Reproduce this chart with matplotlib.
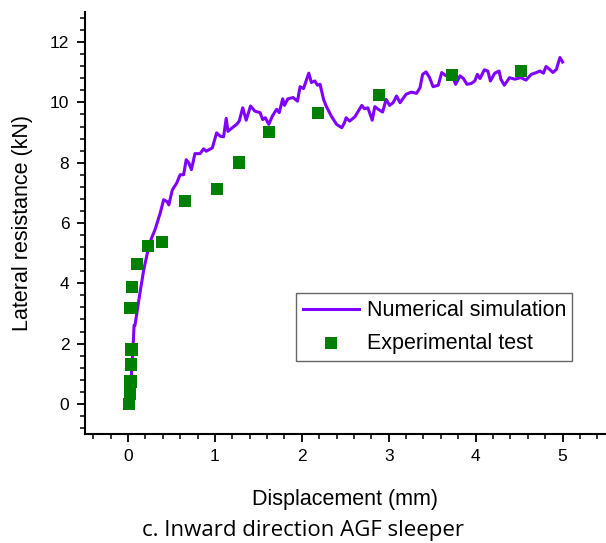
import matplotlib.pyplot as plt
from matplotlib.ticker import MultipleLocator

plt.rcParams['font.family'] = ['Liberation Sans', 'DejaVu Sans']

# numerical simulation curve
sim_x = [0.0, 0.03, 0.04, 0.06, 0.07, 0.08, 0.13, 0.18, 0.23, 0.27, 0.31, 0.37, 0.41, 0.45,
         0.47, 0.51, 0.56, 0.60, 0.64, 0.67, 0.70, 0.73, 0.77, 0.83, 0.87, 0.90, 0.97,
         1.02, 1.06, 1.10, 1.13, 1.15, 1.20, 1.25, 1.28, 1.32, 1.36, 1.41, 1.46, 1.52,
         1.55, 1.58, 1.62, 1.66, 1.71, 1.74, 1.78, 1.80, 1.84, 1.90, 1.95, 1.98, 2.02,
         2.08, 2.11, 2.15, 2.18, 2.21, 2.25, 2.28, 2.34, 2.40, 2.46, 2.49, 2.51, 2.55,
         2.61, 2.65, 2.69, 2.72, 2.76, 2.81, 2.84, 2.88, 2.93, 2.97, 3.01, 3.05, 3.09,
         3.13, 3.20, 3.26, 3.32, 3.36, 3.39, 3.43, 3.47, 3.51, 3.57, 3.61, 3.66, 3.73,
         3.77, 3.82, 3.86, 3.90, 3.95, 3.99, 4.02, 4.05, 4.10, 4.14, 4.17, 4.22, 4.27,
         4.29, 4.33, 4.39, 4.45, 4.52, 4.58, 4.64, 4.70, 4.74, 4.78, 4.81, 4.85, 4.89,
         4.93, 4.97, 5.00]
sim_y = [0.0, 0.5, 1.0, 2.0, 2.6, 2.6, 3.54, 4.43, 5.1, 5.49, 5.77, 6.32, 6.77, 6.71,
         6.6, 7.1, 7.32, 7.6, 7.6, 8.1, 7.99, 7.77, 8.3, 8.3, 8.46, 8.38, 8.49,
         8.99, 8.88, 8.86, 9.47, 9.04, 9.16, 9.27, 9.38, 9.82, 9.41, 9.88, 9.71, 9.66,
         9.43, 9.49, 9.27, 9.54, 9.77, 9.66, 10.12, 9.9, 10.12, 10.16, 10.04, 10.52, 10.46,
         10.97, 10.66, 10.71, 10.57, 10.6, 10.1, 9.88, 9.54, 9.27, 9.16, 9.32, 9.49, 9.38,
         9.52, 9.71, 9.9, 9.79, 9.82, 9.41, 9.86, 9.77, 9.68, 10.1, 9.9, 9.99, 10.21,
         9.99, 10.27, 10.34, 10.3, 10.49, 10.93, 11.01, 10.82, 10.52, 10.57, 10.99, 10.88, 10.9,
         10.6, 10.88, 10.79, 10.6, 10.63, 10.71, 10.93, 10.79, 11.08, 11.04, 10.71, 10.97, 11.04,
         10.77, 10.57, 10.82, 10.77, 10.82, 10.74, 10.93, 10.99, 11.04, 10.97, 11.19, 11.1, 10.99,
         11.1, 11.49, 11.34]

# experimental test points
exp_x = [0.01, 0.02, 0.03, 0.035, 0.04, 0.03, 0.046, 0.10, 0.23, 0.39, 0.66, 1.02, 1.28,
         1.62, 2.19, 2.89, 3.73, 4.52]
exp_y = [0.0, 0.34, 0.74, 1.31, 1.8, 3.17, 3.87, 4.63, 5.24, 5.37, 6.74, 7.13, 8.01,
         9.01, 9.64, 10.24, 10.91, 11.04]

fig = plt.figure(figsize=(6.06, 5.43), dpi=100)
ax = fig.add_axes([0.1395, 0.2007, 0.8605, 0.7773])

ax.plot(sim_x, sim_y, color='#8000FF', lw=2.2, label='Numerical simulation', zorder=2)
ax.scatter(exp_x, exp_y, marker='s', s=78, color='#008000', edgecolors='none',
           label='Experimental test', zorder=3)

ax.set_xlim(-0.5, 5.5)
ax.set_ylim(-1, 13)
ax.set_xticks([0, 1, 2, 3, 4, 5])
ax.set_yticks([0, 2, 4, 6, 8, 10, 12])
ax.xaxis.set_minor_locator(MultipleLocator(0.2))
ax.yaxis.set_minor_locator(MultipleLocator(0.4))
ax.spines['top'].set_visible(False)
ax.spines['right'].set_visible(False)
for s in ['left', 'bottom']:
    ax.spines[s].set_linewidth(1.5)
ax.tick_params(which='major', direction='out', length=6, width=1.3, labelsize=12.5, pad=5)
ax.tick_params(which='minor', direction='out', length=3.5, width=1.1)

ax.set_xlabel('Displacement (mm)', fontsize=15.5, labelpad=18)
ax.set_ylabel('Lateral resistance (kN)', fontsize=15.5, labelpad=12)

leg = ax.legend(loc='lower left', bbox_to_anchor=(0.405, 0.172, 0.53, 0.16), mode='expand',
                fontsize=15.5, frameon=True, fancybox=False, handlelength=2.6,
                borderpad=0.35, labelspacing=0.55, handletextpad=0.35, borderaxespad=0)
leg.get_frame().set_edgecolor('#404040')
leg.get_frame().set_linewidth(1.0)

fig.text(0.5, 0.004, 'c. Inward direction AGF sleeper', ha='center', va='bottom',
         fontsize=16, family=['Open Sans', 'DejaVu Sans'])

fig.savefig('out.png', dpi=100)
